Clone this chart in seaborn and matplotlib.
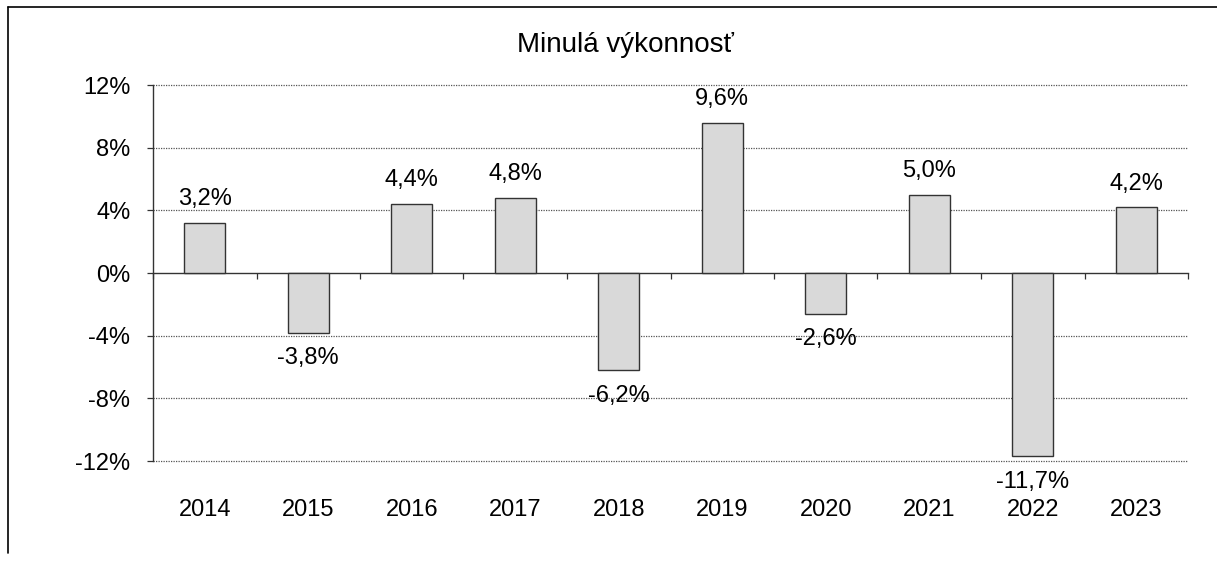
import matplotlib
matplotlib.use("Agg")
import matplotlib.pyplot as plt
from matplotlib.lines import Line2D
from matplotlib.ticker import FuncFormatter
import seaborn as sns
import numpy as np
import pandas as pd

years = ["2014", "2015", "2016", "2017", "2018", "2019", "2020", "2021", "2022", "2023"]
returns = [3.2, -3.8, 4.4, 4.8, -6.2, 9.6, -2.6, 5.0, -11.7, 4.2]
yticks = [-12, -8, -4, 0, 4, 8, 12]
title = "Minulá výkonnosť"

sns.set_theme(style="white")
plt.rcParams['font.family'] = ['Liberation Sans', 'DejaVu Sans']

FS = 17
W, H = 1217, 561
fig = plt.figure(figsize=(W / 100, H / 100), dpi=100)
ax = fig.add_axes([153 / W, 1 - 461 / H, (1188 - 153) / W, (461 - 85) / H])

df = pd.DataFrame({"year": years, "ret": returns})
sns.barplot(data=df, x="year", y="ret", ax=ax, color="#d9d9d9", saturation=1,
            width=0.4, edgecolor="#333333", linewidth=1.0, zorder=3)

ax.set_ylim(-12, 12)
ax.set_xlim(-0.5, len(years) - 0.5)
ax.set_yticks(yticks)
ax.yaxis.set_major_formatter(FuncFormatter(lambda v, p: f"{int(v)}%"))
for y in yticks:
    if y != 0:
        ax.axhline(y, color="#555555", lw=0.9, ls=(0, (1, 1)), zorder=1, clip_on=False)

ax.set_xlabel("")
ax.set_ylabel("")
for s in ["top", "right", "bottom"]:
    ax.spines[s].set_visible(False)
ax.spines["left"].set_color("#333333")
ax.spines["left"].set_linewidth(1.0)

ax.tick_params(axis="y", direction="out", length=4.3, width=0.9, color="#333333",
               labelsize=FS, pad=12, left=True, labelcolor="black")
ax.tick_params(axis="x", length=0, labelsize=FS, pad=27, labelcolor="black")

sec = ax.secondary_xaxis(0, transform=ax.transData)
sec.set_xticks(np.arange(-0.5, len(years) + 0.5, 1))
sec.set_xticklabels([])
sec.tick_params(direction="out", length=4.3, width=0.9, color="#333333")
sec.spines["bottom"].set_color("#333333")
sec.spines["bottom"].set_linewidth(1.0)

for i, v in enumerate(returns):
    lab = f"{v:.1f}%".replace(".", ",")
    off = 17 if v >= 0 else -18.5
    ax.annotate(lab, (i, v), xytext=(0, off), textcoords="offset points",
                ha="center", va="center", fontsize=FS, color="black", zorder=5)

fig.text(625 / W, 1 - 45 / H, title, ha="center", va="center", fontsize=20, color="black")

fig.add_artist(Line2D([8 / W, 1], [1 - 7 / H, 1 - 7 / H], transform=fig.transFigure,
                      color="black", lw=1.2))
fig.add_artist(Line2D([8 / W, 8 / W], [1 - 7 / H, 1 - 553 / H], transform=fig.transFigure,
                      color="black", lw=1.2))

fig.savefig("out.png", dpi=100, facecolor="white")
